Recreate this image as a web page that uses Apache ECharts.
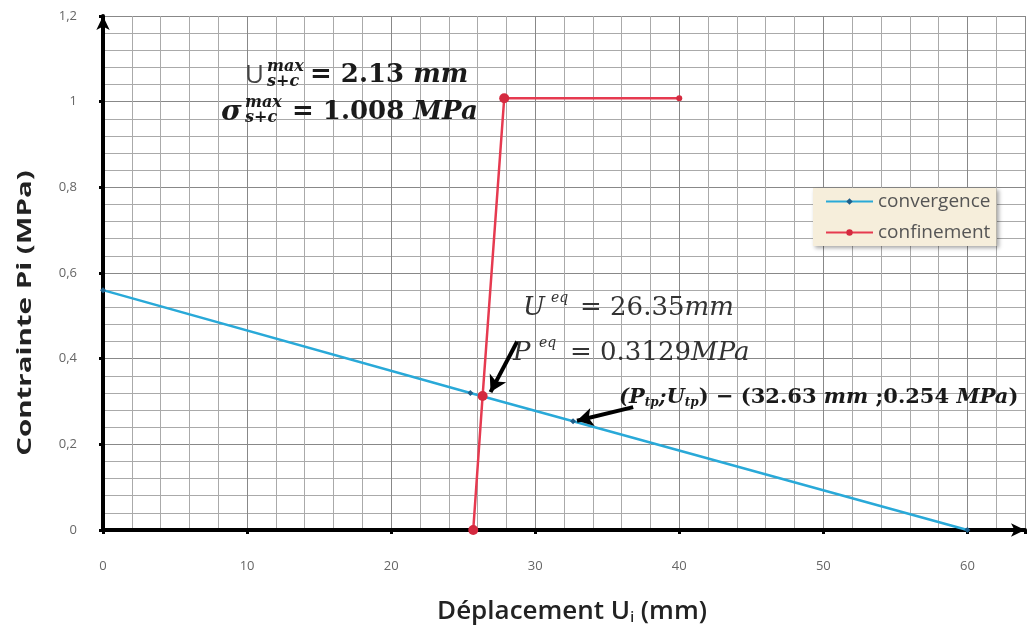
<!DOCTYPE html>
<html>
<head>
<meta charset="utf-8">
<script src="https://cdn.jsdelivr.net/npm/echarts@6/dist/echarts.min.js"></script>
<style>
  html, body { margin: 0; padding: 0; background: #fff; }
  #chart { width: 1033px; height: 628px; }
</style>
</head>
<body>
<div id="chart"></div>
<script>
// data
const convX = [0, 25.5, 32.63, 60]
const convY = [0.56, 0.32, 0.254, 0]
const confX = [25.7, 26.35, 27.85, 40]
const confY = [0, 0.3129, 1.008, 1.008]
const xTicks = [0, 10, 20, 30, 40, 50, 60]
// arrows: [fromX, fromY, toX, toY]
const arrowEq = [28.75, 0.44, 26.9, 0.322]
const arrowTp = [36.8, 0.287, 32.9, 0.255]

const chart = echarts.init(document.getElementById('chart'))

const serif = '"DejaVu Serif", "Liberation Serif", serif'
const sans = '"Open Sans", "Noto Sans", sans-serif'

const txt = (x, y, text, style) => ({
  type: 'text',
  x: x,
  y: y,
  z: 100,
  style: Object.assign({
    text: text,
    fill: '#1a1a1a',
    font: '26px ' + serif,
    verticalAlign: 'middle'
  }, style || {})
})

const option = {
  backgroundColor: '#fff',
  animation: false,
  grid: {
    left: 103,
    right: 8,
    top: 16,
    bottom: 98
  },
  legend: {
    left: 813,
    top: 188,
    orient: 'vertical',
    backgroundColor: '#f6eedb',
    shadowColor: 'rgba(0,0,0,0.35)',
    shadowBlur: 4,
    shadowOffsetX: 2,
    shadowOffsetY: 2,
    padding: [4, 6, 4, 12],
    itemGap: 12,
    itemWidth: 47,
    itemHeight: 8,
    textStyle: { color: '#555', fontSize: 19, lineHeight: 18, fontFamily: sans },
    data: ['convergence', 'confinement']
  },
  xAxis: {
    type: 'value',
    min: 0,
    max: 64,
    interval: 10,
    axisLine: {
      show: true,
      onZero: false,
      symbol: ['none', 'arrow'],
      symbolSize: [10, 14],
      lineStyle: { color: '#000', width: 4 }
    },
    axisTick: { show: true, length: 4, lineStyle: { color: '#000', width: 3 } },
    axisLabel: {
      color: '#666',
      fontSize: 13,
      fontFamily: sans,
      margin: 30,
      formatter: v => (xTicks.includes(v) ? String(v) : '')
    },
    splitLine: { show: true, lineStyle: { color: '#888', width: 1 } },
    minorTick: { show: true, splitNumber: 5, length: 0 },
    minorSplitLine: { show: true, lineStyle: { color: '#aaa', width: 1 } }
  },
  yAxis: {
    type: 'value',
    min: 0,
    max: 1.2,
    interval: 0.2,
    axisLine: {
      show: true,
      onZero: false,
      symbol: ['none', 'arrow'],
      symbolSize: [10, 14],
      lineStyle: { color: '#000', width: 4 }
    },
    axisTick: { show: true, length: 4, lineStyle: { color: '#000', width: 3 } },
    axisLabel: {
      color: '#666',
      fontSize: 13,
      fontFamily: sans,
      margin: 26,
      formatter: v => String(+v.toFixed(2)).replace('.', ',')
    },
    splitLine: { show: true, lineStyle: { color: '#888', width: 1 } },
    minorTick: { show: true, splitNumber: 5, length: 0 },
    minorSplitLine: { show: true, lineStyle: { color: '#aaa', width: 1 } }
  },
  series: [
    {
      name: 'convergence',
      type: 'line',
      data: convX.map((x, i) => [x, convY[i]]),
      symbol: 'diamond',
      symbolSize: 6,
      lineStyle: { color: '#29a9d8', width: 2.5 },
      itemStyle: { color: '#1f5f8a' },
      z: 3
    },
    {
      name: 'confinement',
      type: 'line',
      data: confX.map((x, i) => ({
        value: [x, confY[i]],
        symbolSize: i === confX.length - 1 ? 6 : 10
      })),
      symbol: 'circle',
      lineStyle: { color: '#e63a50', width: 2.5 },
      itemStyle: { color: '#d42a3f' },
      z: 4,
      markLine: {
        silent: true,
        symbol: ['none', 'arrow'],
        symbolSize: [14, 16],
        label: { show: false },
        lineStyle: { color: '#000', width: 4, type: 'solid' },
        data: [
          [{ coord: [arrowEq[0], arrowEq[1]] }, { coord: [arrowEq[2], arrowEq[3]] }],
          [{ coord: [arrowTp[0], arrowTp[1]] }, { coord: [arrowTp[2], arrowTp[3]] }]
        ]
      }
    }
  ],
  graphic: [
    // y axis name, stretched like the source picture
    {
      type: 'text',
      x: 26,
      y: 313,
      rotation: Math.PI / 2,
      scaleX: 1.55,
      style: {
        text: 'Contrainte Pi (MPa)',
        font: 'bold 19px ' + sans,
        fill: '#222',
        align: 'center',
        verticalAlign: 'middle'
      }
    },
    // x axis name with subscript
    {
      type: 'text',
      x: 572,
      y: 612,
      style: {
        text: '{a|Déplacement U}{s|i}{a| (mm)}',
        align: 'center',
        verticalAlign: 'middle',
        rich: {
          a: { font: '600 26px ' + sans, fill: '#222' },
          s: { font: '600 14px ' + sans, fill: '#222', padding: [12, 0, 0, 0] }
        }
      }
    },
    // U max
    txt(245, 76, 'U', { font: '26px ' + sans, fill: '#444' }),
    txt(267, 67, 'max', { font: 'italic bold 16px ' + serif }),
    txt(267, 82, 's+c', { font: 'italic bold 16px ' + serif }),
    {
      type: 'text', x: 310, y: 75, z: 100,
      style: {
        text: '{n|= 2.13 }{i|mm}',
        verticalAlign: 'middle',
        rich: {
          n: { font: 'bold 26px ' + serif, fill: '#1a1a1a' },
          i: { font: 'italic bold 26px ' + serif, fill: '#1a1a1a' }
        }
      }
    },
    // sigma max
    txt(221, 113, 'σ', { font: 'italic bold 28px ' + serif }),
    txt(245, 103, 'max', { font: 'italic bold 16px ' + serif }),
    txt(245, 118, 's+c', { font: 'italic bold 16px ' + serif }),
    {
      type: 'text', x: 292, y: 112, z: 100,
      style: {
        text: '{n|= 1.008 }{i|MPa}',
        verticalAlign: 'middle',
        rich: {
          n: { font: 'bold 26px ' + serif, fill: '#1a1a1a' },
          i: { font: 'italic bold 26px ' + serif, fill: '#1a1a1a' }
        }
      }
    },
    // U eq
    txt(523, 308, 'U', { font: 'italic 26px ' + serif, fill: '#333' }),
    txt(551, 298, 'eq', { font: 'italic 14px ' + serif, fill: '#333' }),
    {
      type: 'text', x: 580, y: 308, z: 100,
      style: {
        text: '{n|= 26.35}{i|mm}',
        verticalAlign: 'middle',
        rich: {
          n: { font: '26px ' + serif, fill: '#333' },
          i: { font: 'italic 26px ' + serif, fill: '#333' }
        }
      }
    },
    // P eq
    txt(513, 353, 'P', { font: 'italic 26px ' + serif, fill: '#333' }),
    txt(539, 343, 'eq', { font: 'italic 14px ' + serif, fill: '#333' }),
    {
      type: 'text', x: 570, y: 353, z: 100,
      style: {
        text: '{n|= 0.3129}{i|MPa}',
        verticalAlign: 'middle',
        rich: {
          n: { font: '26px ' + serif, fill: '#333' },
          i: { font: 'italic 26px ' + serif, fill: '#333' }
        }
      }
    },
    // tangent point
    {
      type: 'text',
      x: 619,
      y: 398,
      z: 100,
      style: {
        text: '{p|(P}{s|tp}{p|;U}{s|tp}{n|) − (32.63 }{p|mm}{n| ;0.254 }{p|MPa}{n|)}',
        verticalAlign: 'middle',
        rich: {
          p: { font: 'italic bold 21px ' + serif, fill: '#1a1a1a' },
          n: { font: 'bold 21px ' + serif, fill: '#1a1a1a' },
          s: { font: 'italic bold 12px ' + serif, fill: '#1a1a1a', padding: [9, 0, 0, 0] }
        }
      }
    }
  ]
}

chart.setOption(option)
</script>
</body>
</html>
